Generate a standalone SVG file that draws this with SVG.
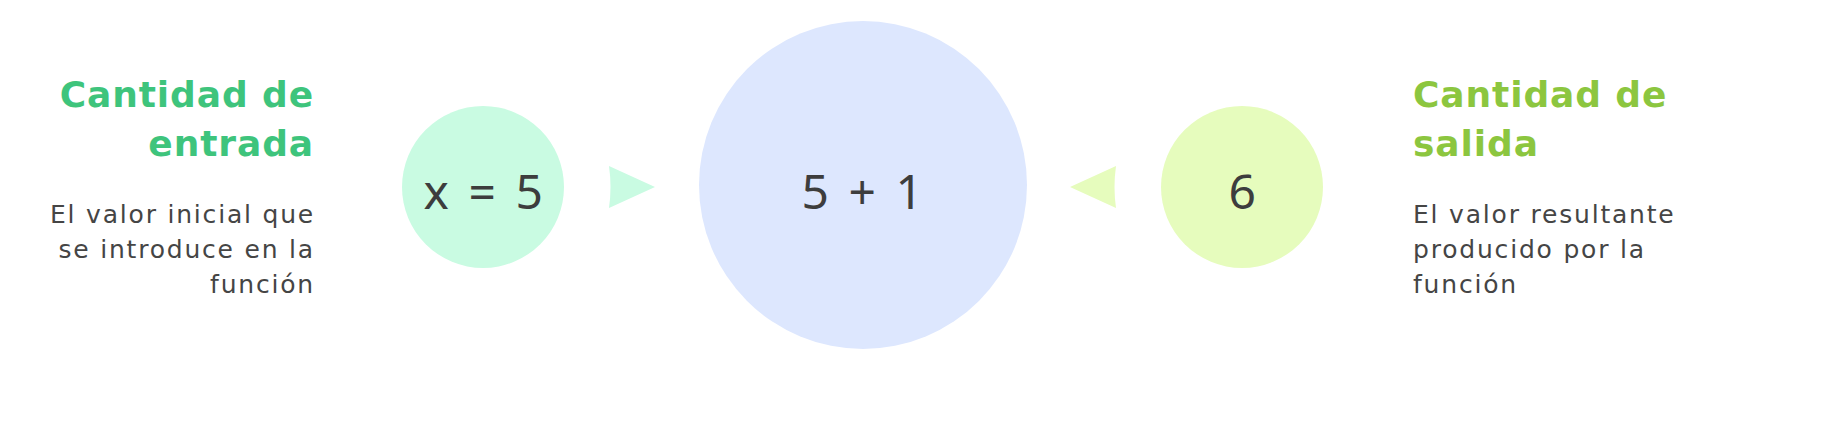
<svg xmlns="http://www.w3.org/2000/svg" width="1836" height="434" viewBox="0 0 1836 434">
  <style>
    .title { font-family: "DejaVu Sans", "Liberation Sans", sans-serif; font-weight: 700; font-size: 36px; letter-spacing: 0.9px; }
    .desc { font-family: "DejaVu Sans", "Liberation Sans", sans-serif; font-size: 25px; letter-spacing: 1.8px; fill: #454545; }
    .val { font-family: "Noto Sans", "Liberation Sans", sans-serif; font-size: 48px; letter-spacing: 3.5px; fill: #3d3d3d; text-anchor: middle; }
  </style>
  <rect width="1836" height="434" fill="#ffffff"/>
  <g id="connectors">
    <path d="M609,166 L655,187 L609,208 Q612,187 609,166 Z" fill="#c9fbe2"/>
    <path d="M1116,166 L1070,187 L1116,208 Q1113,187 1116,166 Z" fill="#e6fcbd"/>
  </g>
  <g id="input-label">
    <text class="title" fill="#3ec47c" text-anchor="end" x="314" y="107">Cantidad de</text>
    <text class="title" fill="#3ec47c" text-anchor="end" x="314" y="156">entrada</text>
    <text class="desc" text-anchor="end" x="315" y="223">El valor inicial que</text>
    <text class="desc" text-anchor="end" x="315" y="258">se introduce en la</text>
    <text class="desc" text-anchor="end" x="315" y="293">función</text>
  </g>
  <g id="input">
    <circle cx="483" cy="187" r="81" fill="#c9fbe2"/>
    <text class="val" x="485" y="209">x = 5</text>
  </g>
  <g id="function">
    <circle cx="863" cy="185" r="164" fill="#dde7fe"/>
    <text class="val" x="864" y="209">5 + 1</text>
  </g>
  <g id="output">
    <circle cx="1242" cy="187" r="81" fill="#e6fcbd"/>
    <text class="val" x="1244" y="209">6</text>
  </g>
  <g id="output-label">
    <text class="title" fill="#8cc63f" x="1413" y="107">Cantidad de</text>
    <text class="title" fill="#8cc63f" x="1413" y="156">salida</text>
    <text class="desc" x="1413" y="223">El valor resultante</text>
    <text class="desc" x="1413" y="258">producido por la</text>
    <text class="desc" x="1413" y="293">función</text>
  </g>
</svg>
